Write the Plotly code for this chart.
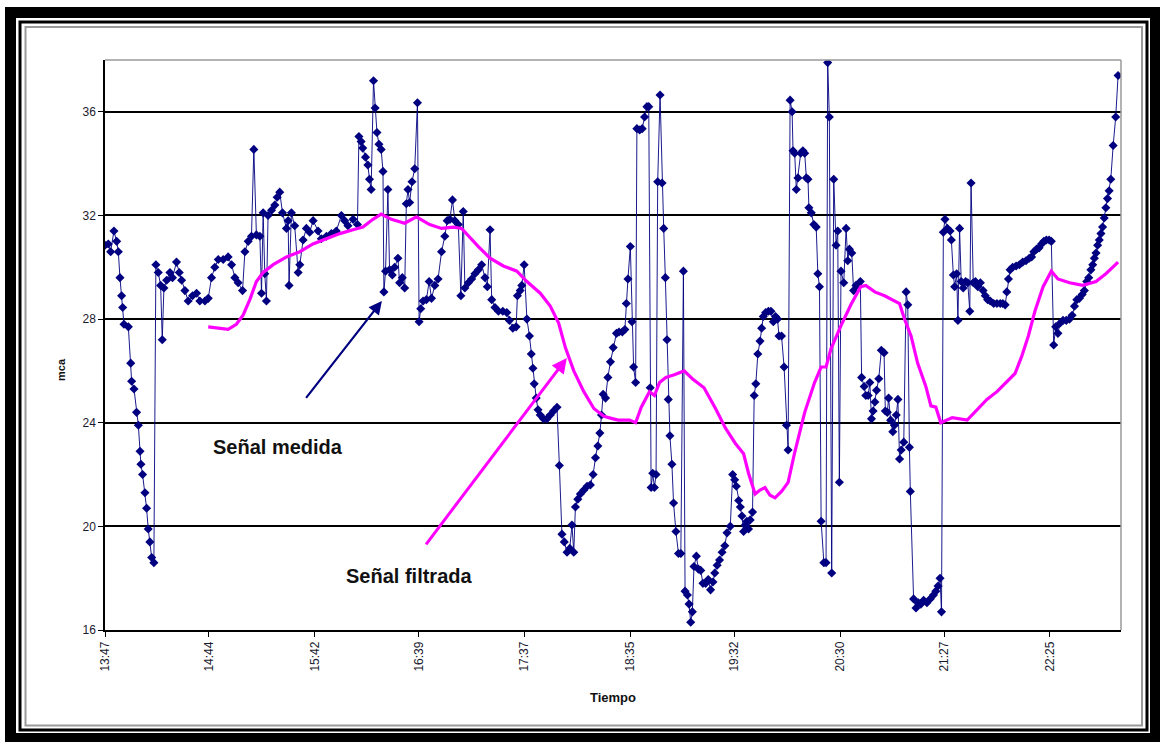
import plotly.graph_objects as go

# Axis labels (clock time); positions are minutes elapsed since the first label
tick_labels = ["13:47", "14:44", "15:42", "16:39", "17:37",
               "18:35", "19:32", "20:30", "21:27", "22:25"]

# Measured pressure head (mca) — time in minutes since 13:47
t_medida = [
    0, 1.8, 3.1, 4.9, 6.4, 7.3, 8.2, 9.1, 9.7, 10.4, 12.8, 14.1, 14.6, 15.9, 17.3, 18.3,
    19.2, 19.7, 20.6, 21.9, 22.8, 23.7, 24.6, 25.6, 26.8, 27.9, 29.2, 30.5, 31.4, 32.3,
    33.8, 35.6, 37.0, 39.2, 40.7, 42.0, 43.8, 45.6, 48.0, 50.2, 52.0, 54.8, 56.6, 58.4,
    60.2, 62.1, 64.8, 67.5, 69.4, 71.2, 73.0, 75.4, 76.7, 78.5, 80.3, 81.6, 83.0, 84.9,
    85.8, 86.7, 87.6, 88.5, 89.4, 91.3, 93.1, 94.4, 95.8, 97.3, 99.5, 100.4, 100.9, 102.2,
    104.0, 105.9, 106.8, 108.6, 110.4, 112.2, 114.1, 116.8, 118.6, 121.4, 124.1, 126.8,
    129.6, 131.4, 133.2, 136.0, 138.4, 139.2, 140.4, 141.3, 142.8, 144.1, 145.0, 145.9,
    147.2, 148.1, 149.1, 150.2, 151.4, 152.4, 152.9, 153.8, 155.1, 156.0, 157.5, 158.8,
    160.6, 161.5, 163.0, 164.3, 165.2, 166.1, 167.0, 168.3, 169.8, 171.3, 172.2, 173.1,
    174.4, 176.2, 177.7, 179.0, 180.8, 182.6, 184.5, 186.3, 187.6, 189.1, 190.5, 191.8,
    193.7, 195.1, 196.4, 197.3, 199.2, 201.0, 202.8, 204.7, 206.5, 208.3, 209.6, 211.1,
    212.0, 213.8, 215.7, 218.1, 220.3, 221.7, 223.6, 225.4, 226.1, 227.6, 228.5, 229.8,
    231.3, 232.7, 233.7, 234.6, 235.3, 236.4, 237.4, 238.6, 240.4, 242.3, 244.1, 245.9,
    247.8, 249.1, 250.5, 251.8, 253.3, 254.8, 256.0, 257.0, 257.9, 259.2, 260.6, 262.5,
    264.3, 266.1, 267.6, 268.9, 270.2, 271.3, 272.2, 273.1, 274.4, 275.7, 277.1, 278.6,
    280.4, 281.8, 283.6, 285.0, 285.8, 286.7, 288.0, 288.9, 289.8, 290.9, 291.6, 293.1,
    294.5, 295.8, 297.1, 298.1, 298.9, 299.4, 300.3, 301.2, 302.1, 303.0, 304.3, 305.4,
    306.3, 307.2, 308.1, 308.8, 309.7, 310.8, 311.7, 313.0, 314.4, 315.7, 317.1, 318.0,
    319.3, 320.2, 321.1, 322.0, 322.9, 324.2, 325.3, 326.6, 327.8, 329.3, 330.7, 332.0,
    333.3, 334.3, 335.6, 336.9, 338.3, 339.8, 341.0, 342.8, 344.1, 345.2, 346.1, 347.4,
    348.3, 349.2, 350.1, 351.0, 351.9, 352.8, 353.7, 355.0, 355.9, 356.8, 357.9, 359.1,
    360.0, 360.9, 362.2, 363.7, 365.1, 366.4, 367.6, 368.7, 369.5, 370.9, 372.3, 373.6,
    374.5, 375.6, 376.7, 377.2, 378.1, 379.0, 379.9, 381.4, 382.6, 383.6, 384.5, 385.4,
    385.9, 387.2, 388.6, 389.9, 390.8, 391.7, 392.6, 394.1, 395.3, 396.2, 397.1, 398.4,
    399.5, 400.8, 401.7, 402.6, 403.5, 405.0, 406.3, 407.2, 408.1, 409.4, 410.4, 411.7,
    413.0, 414.1, 414.8, 416.2, 417.1, 418.4, 419.3, 420.2, 421.1, 422.1, 423.0, 424.2,
    425.6, 427.1, 427.8, 428.9, 429.6, 430.7, 431.9, 432.8, 433.8, 434.7, 435.6, 436.5,
    437.9, 439.2, 440.1, 441.0, 441.5, 443.3, 444.6, 445.9, 447.3, 448.8, 450.6, 452.4,
    454.2, 455.5, 456.7, 457.8, 458.6, 459.6, 460.5, 461.8, 463.3, 464.0, 465.1, 465.8,
    466.9, 467.6, 468.5, 469.4, 470.5, 471.8, 473.0, 474.1, 474.8, 476.0, 477.2, 478.5,
    479.9, 481.4, 482.6, 483.9, 485.3, 487.2, 489.0, 490.8, 492.2, 493.5, 494.4, 495.3,
    496.2, 497.6, 499.5, 501.3, 503.1, 504.9, 506.7, 508.0, 509.2, 510.7, 512.1, 513.4,
    514.7, 516.1, 517.6, 518.8, 520.1, 521.2, 522.4, 523.7, 525.2, 527.0, 528.8, 530.2,
    531.5, 532.8, 534.2, 535.7, 536.9, 538.2, 539.3, 540.5, 541.5, 542.4, 543.3, 544.2,
    545.1, 546.0, 546.9, 547.8, 548.7, 549.6, 550.5, 551.4, 552.7, 554.1, 555.4,
]
mca_medida = [
    30.85, 30.9, 30.6, 31.4, 31.0, 30.6, 29.6, 28.9, 28.45, 27.8, 27.7, 26.3, 25.6, 25.3, 24.4, 23.9,
    22.9, 22.4, 22.0, 21.3, 20.7, 19.9, 19.4, 18.8, 18.6, 30.1, 29.8, 29.3, 27.2, 29.2,
    29.5, 29.8, 29.6, 30.2, 29.8, 29.5, 29.1, 28.7, 28.9, 29.0, 28.7, 28.7, 28.8, 29.6,
    30.0, 30.3, 30.3, 30.4, 30.1, 29.6, 29.4, 29.1, 30.6, 31.0, 31.2, 34.55, 31.25, 31.2,
    29.0, 32.1, 29.75, 28.7, 32.0, 32.2, 32.4, 32.7, 32.9, 32.1, 31.5, 31.8, 29.3, 32.1,
    31.6, 29.8, 30.1, 31.05, 31.5, 31.35, 31.8, 31.4, 31.1, 31.2, 31.3, 31.4,
    32.0, 31.8, 31.6, 31.85, 31.65, 35.05, 34.85, 34.6, 34.25, 33.95, 33.4, 33.0,
    37.2, 36.15, 35.2, 34.75, 34.55, 33.7, 29.05, 29.85, 33.0, 29.9, 29.7, 30.0,
    30.35, 29.4, 29.6, 29.2, 32.45, 33.0, 32.5, 33.3, 33.8, 36.35, 27.9, 28.4,
    28.7, 28.75, 29.45, 28.8, 29.3, 29.55, 30.6, 31.2, 31.8, 31.85, 32.6, 31.8,
    31.65, 28.9, 32.15, 29.2, 29.4, 29.55, 29.75, 29.9, 30.1, 29.6, 29.25, 31.45,
    28.75, 28.45, 28.3, 28.3, 28.25, 27.95, 27.65, 27.7, 28.9, 29.1, 29.3, 30.1,
    28.0, 27.35, 26.65, 26.1, 25.5, 24.95, 24.5, 24.3, 24.15, 24.15, 24.3, 24.45,
    24.6, 22.35, 19.7, 19.4, 19.0, 19.15, 20.05, 19.0, 20.75, 21.05, 21.25, 21.4,
    21.55, 21.6, 22.0, 22.65, 23.1, 23.6, 24.3, 25.1, 24.95, 25.75, 26.35, 26.9,
    27.45, 27.5, 27.5, 27.6, 28.6, 29.55, 30.8, 27.9, 26.15, 25.55, 35.35, 35.3,
    35.35, 35.8, 36.2, 36.2, 25.35, 21.5, 22.05, 21.5, 22.0, 33.3, 36.65, 33.25,
    31.5, 29.6, 27.2, 24.9, 23.5, 22.4, 20.9, 19.8, 18.95, 18.95, 29.85, 17.5,
    17.35, 17.0, 16.3, 16.7, 18.45, 18.85, 18.35, 18.3, 17.8, 17.8, 17.95, 17.55,
    17.85, 18.2, 18.5, 18.7, 19.0, 19.25, 19.75, 20.0, 22.0, 21.8, 21.55, 21.0,
    20.75, 20.4, 19.8, 20.05, 20.2, 19.9, 20.25, 20.55, 25.05, 25.5, 26.65, 27.15,
    27.65, 28.1, 28.25, 28.3, 28.3, 27.9, 28.1, 28.0, 27.35, 27.35, 26.15, 23.9,
    22.95, 36.45, 36.0, 34.5, 34.4, 33.0, 33.45, 34.4, 34.5, 34.4, 33.45, 33.4,
    32.3, 32.1, 31.65, 31.55, 29.75, 29.25, 20.2, 18.6, 18.6, 37.9, 35.8, 18.2,
    33.4, 30.85, 31.4, 21.7, 29.85, 29.4, 31.5, 30.25, 30.7, 30.55, 29.1, 29.3,
    29.3, 29.45, 25.75, 25.4, 25.05, 25.05, 25.55, 24.15, 24.45, 24.8, 25.25, 25.7,
    26.8, 26.7, 24.45, 24.4, 24.95, 24.1, 23.65, 23.9, 24.3, 24.9, 22.6, 22.95,
    23.25, 29.05, 28.55, 23.05, 21.35, 17.2, 16.85, 17.05, 17.0, 17.15, 17.05, 17.2,
    17.35, 17.5, 17.7, 18.0, 16.7, 31.35, 31.85, 31.5, 31.4, 31.05, 29.7, 29.25,
    29.75, 27.95, 31.5, 29.45, 29.2, 29.45, 29.4, 28.3, 33.25, 29.4, 29.45, 29.25,
    29.4, 29.1, 28.9, 28.75, 28.7, 28.6, 28.6, 28.6, 28.6, 28.55, 29.05, 29.55,
    29.9, 30.0, 30.05, 30.1, 30.2, 30.25, 30.35, 30.4, 30.6, 30.7, 30.75, 30.9,
    31.0, 31.05, 31.05, 31.0, 27.0, 27.7, 27.45, 27.85, 27.95, 27.95, 28.0, 28.15,
    28.5, 28.75, 28.8, 28.95, 29.1, 29.45, 29.6, 29.9, 30.1, 30.35, 30.55, 30.85,
    31.05, 31.3, 31.55, 31.9, 32.3, 32.65, 32.95, 33.4, 34.7, 35.8, 37.4,
]

# Filtered signal
t_filtrada = [
    56.6, 61, 67.5, 72, 75.7, 79.4, 83, 86.7, 92.2, 99.5, 106.8, 114, 121.4, 128.7, 136,
    141.4, 146.9, 151.4, 157, 164.3, 170.7, 178, 184.5, 190.9, 195.5, 199.2, 204.7, 211.1,
    218.4, 225.8, 231.3, 238.6, 244.1, 248.7, 252.4, 257, 262.5, 268, 273.5, 278.6, 281.3,
    287.6, 290.9, 294, 298.5, 301.2, 304, 307.5, 312.1, 317.5, 322, 328.4, 334.7, 340.1,
    345.6, 350.1, 352.8, 356.4, 359.1, 361.8, 364.6, 367.3, 370.9, 374.5, 378.1, 383.6,
    389, 392.6, 395.3, 398, 403.5, 408.9, 414.3, 417.1, 422, 427.4, 432.8, 435.6, 438.3,
    441.9, 445.5, 450, 452.8, 455.5, 458.2, 464.5, 472.7, 478.1, 483.5, 489, 494.4, 498.9,
    502.5, 506.2, 509.8, 514.3, 518.8, 522.4, 528.8, 536, 543.3, 548.7, 555.4,
]
mca_filtrada = [
    27.7, 27.65, 27.6, 27.8, 28.15, 28.75, 29.45, 29.8, 30.1, 30.4, 30.6, 30.9, 31.1, 31.3, 31.45,
    31.55, 31.85, 32.05, 31.85, 31.7, 31.95, 31.65, 31.5, 31.55, 31.5, 31.2, 30.8, 30.35,
    30.05, 29.85, 29.45, 29.0, 28.5, 27.85, 26.9, 26.0, 25.2, 24.55, 24.25, 24.15, 24.1,
    24.1, 24.0, 24.6, 25.2, 25.05, 25.55, 25.75, 25.85, 26.0, 25.7, 25.35, 24.55, 23.8,
    23.2, 22.8, 22.05, 21.25, 21.4, 21.5, 21.2, 21.1, 21.35, 21.7, 22.85, 24.4,
    25.55, 26.15, 26.15, 26.85, 27.75, 28.55, 29.25, 29.3, 29.05, 28.9, 28.7, 28.6, 28.0,
    27.35, 26.3, 25.4, 24.65, 24.6, 24.0, 24.2, 24.1, 24.5, 24.9, 25.2, 25.6, 25.9,
    26.55, 27.35, 28.3, 29.25, 29.85, 29.55, 29.4, 29.3, 29.45, 29.75, 30.2,
]


def minutes_from_start(label, start=tick_labels[0]):
    h, m = map(int, label.split(":"))
    h0, m0 = map(int, start.split(":"))
    return (h * 60 + m) - (h0 * 60 + m0)


tick_pos = [minutes_from_start(s) for s in tick_labels]

W, H = 1164, 746
ML, MR, MT, MB = 105, 43, 60, 116
PW, PH = W - ML - MR, H - MT - MB


def px(x):
    return (x - ML) / PW


def py(y):
    return (H - MB - y) / PH


NAVY = "#000080"
MAGENTA = "#FF00FF"
FONT = "Liberation Sans, Arial, sans-serif"

fig = go.Figure()

fig.add_trace(go.Scatter(
    x=t_medida, y=mca_medida, mode="lines+markers", name="Señal medida",
    line=dict(color=NAVY, width=0.9),
    marker=dict(symbol="diamond", size=7, color=NAVY),
))
fig.add_trace(go.Scatter(
    x=t_filtrada, y=mca_filtrada, mode="lines", name="Señal filtrada",
    line=dict(color=MAGENTA, width=3.2),
))

shapes = [
    # double frame around the chart area
    dict(type="rect", xref="paper", yref="paper", layer="below",
         x0=px(5), x1=px(1160), y0=py(742), y1=py(7),
         fillcolor="black", line=dict(width=0)),
    dict(type="rect", xref="paper", yref="paper", layer="below",
         x0=px(16), x1=px(1150), y0=py(733), y1=py(18),
         fillcolor="white", line=dict(width=0)),
    dict(type="rect", xref="paper", yref="paper", layer="below",
         x0=px(20), x1=px(1147), y0=py(730), y1=py(22),
         line=dict(color="black", width=3)),
    dict(type="rect", xref="paper", yref="paper", layer="below",
         x0=px(25.5), x1=px(1142), y0=py(725.5), y1=py(27),
         line=dict(color="#9a9a9a", width=2)),
    # plot area border, top and right
    dict(type="line", xref="paper", yref="paper", x0=0, x1=1, y0=1, y1=1,
         line=dict(color="#9a9a9a", width=1.5)),
    dict(type="line", xref="paper", yref="paper", x0=1, x1=1, y0=0, y1=1,
         line=dict(color="#9a9a9a", width=1.5)),
]

annotations = [
    dict(x=151.8, y=28.7, ax=109.6, ay=24.9, xref="x", yref="y", axref="x", ayref="y",
         text="", showarrow=True, arrowhead=2, arrowsize=1.2, arrowwidth=2.2,
         arrowcolor=NAVY),
    dict(x=253.2, y=26.5, ax=175.4, ay=19.25, xref="x", yref="y", axref="x", ayref="y",
         text="", showarrow=True, arrowhead=2, arrowsize=1.0, arrowwidth=3,
         arrowcolor=MAGENTA),
    dict(x=94.8, y=23.05, xref="x", yref="y", text="<b>Señal medida</b>",
         xanchor="center", yanchor="middle", showarrow=False,
         font=dict(family=FONT, size=20, color="#111111")),
    dict(x=166.5, y=18.1, xref="x", yref="y", text="<b>Señal filtrada</b>",
         xanchor="center", yanchor="middle", showarrow=False,
         font=dict(family=FONT, size=20, color="#111111")),
    dict(x=px(61), y=py(370), xref="paper", yref="paper", text="<b>mca</b>",
         xanchor="center", yanchor="middle", textangle=-90, showarrow=False,
         font=dict(family=FONT, size=11, color="#111111")),
    dict(x=px(613), y=py(697), xref="paper", yref="paper", text="<b>Tiempo</b>",
         xanchor="center", yanchor="middle", showarrow=False,
         font=dict(family=FONT, size=13, color="#111111")),
]

fig.update_layout(
    width=W, height=H,
    margin=dict(l=ML, r=MR, t=MT, b=MB, pad=0),
    paper_bgcolor="white", plot_bgcolor="white",
    showlegend=False,
    shapes=shapes, annotations=annotations,
    font=dict(family=FONT, size=12, color="#1a1a2e"),
)
fig.update_xaxes(
    range=[0, 557], tickmode="array", tickvals=tick_pos, ticktext=tick_labels,
    tickangle=-90, ticks="outside", ticklen=5, tickcolor="black",
    showline=True, linecolor="black", linewidth=1.5, showgrid=False, zeroline=False,
    tickfont=dict(size=12), automargin=False,
)
fig.update_yaxes(
    range=[16, 38], tickmode="array", tickvals=[16, 20, 24, 28, 32, 36],
    ticks="outside", ticklen=5, tickcolor="black",
    showline=True, linecolor="black", linewidth=1.5,
    showgrid=True, gridcolor="black", gridwidth=1.5, zeroline=False,
    tickfont=dict(size=12), automargin=False,
)

fig.write_html("out.html")
